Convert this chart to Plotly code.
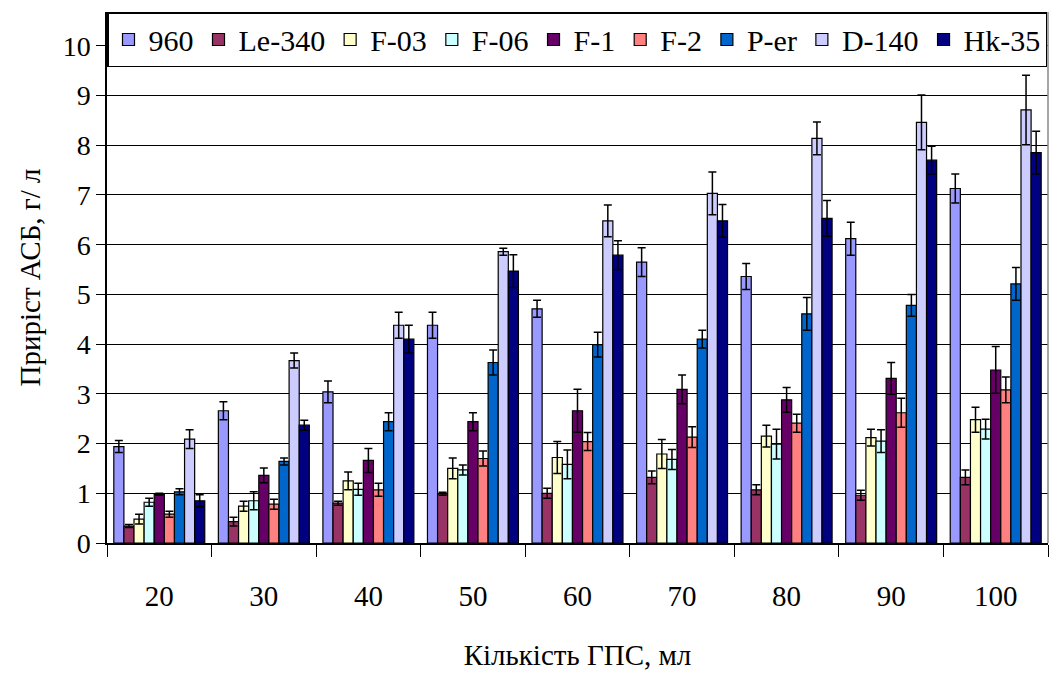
import plotly.graph_objects as go

# ГПС volumes (ml) on the x axis
volumes = ["20", "30", "40", "50", "60", "70", "80", "90", "100"]

strains = ["960", "Le-340", "F-03", "F-06", "F-1", "F-2", "P-er", "D-140", "Hk-35"]
colors = ["#9999FF", "#993366", "#FFFFCC", "#CCFFFF", "#660066",
          "#FF8080", "#0066CC", "#CCCCFF", "#000080"]

# biomass increase, g/l (per strain, one value per volume)
y_960   = [1.94, 2.66, 3.04, 4.38, 4.71, 5.65, 5.36, 6.12, 7.13]
y_le340 = [0.34, 0.43, 0.80, 0.99, 1.00, 1.32, 1.07, 0.96, 1.32]
y_f03   = [0.48, 0.74, 1.25, 1.50, 1.72, 1.79, 2.15, 2.12, 2.48]
y_f06   = [0.82, 0.85, 1.08, 1.47, 1.58, 1.68, 1.99, 2.05, 2.29]
y_f1    = [0.98, 1.36, 1.66, 2.44, 2.66, 3.09, 2.88, 3.31, 3.48]
y_f2    = [0.58, 0.78, 1.07, 1.70, 2.04, 2.13, 2.41, 2.62, 3.08]
y_per   = [1.03, 1.64, 2.44, 3.63, 3.99, 4.10, 4.61, 4.78, 5.21]
y_d140  = [2.09, 3.67, 4.38, 5.86, 6.48, 7.03, 8.14, 8.46, 8.71]
y_hk35  = [0.85, 2.37, 4.10, 5.47, 5.79, 6.48, 6.53, 7.70, 7.85]

# standard deviations
e_960   = [0.12, 0.18, 0.22, 0.26, 0.17, 0.29, 0.26, 0.33, 0.29]
e_le340 = [0.03, 0.09, 0.04, 0.03, 0.10, 0.13, 0.10, 0.10, 0.15]
e_f03   = [0.10, 0.10, 0.18, 0.21, 0.32, 0.29, 0.22, 0.17, 0.25]
e_f06   = [0.08, 0.18, 0.12, 0.10, 0.29, 0.20, 0.30, 0.23, 0.20]
e_f1    = [0.02, 0.15, 0.24, 0.18, 0.43, 0.29, 0.25, 0.32, 0.47]
e_f2    = [0.06, 0.10, 0.13, 0.15, 0.18, 0.21, 0.18, 0.29, 0.26]
e_per   = [0.06, 0.07, 0.18, 0.25, 0.25, 0.18, 0.33, 0.22, 0.33]
e_d140  = [0.19, 0.15, 0.26, 0.07, 0.32, 0.43, 0.33, 0.55, 0.70]
e_hk35  = [0.12, 0.10, 0.28, 0.33, 0.29, 0.33, 0.36, 0.28, 0.43]

values = [y_960, y_le340, y_f03, y_f06, y_f1, y_f2, y_per, y_d140, y_hk35]
errors = [e_960, e_le340, e_f03, e_f06, e_f1, e_f2, e_per, e_d140, e_hk35]

FONT = "Liberation Serif"

fig = go.Figure()
for name, col, vals, errs in zip(strains, colors, values, errors):
    fig.add_trace(go.Bar(
        name=name, x=volumes, y=vals,
        marker=dict(color=col, line=dict(color="black", width=1.2)),
        error_y=dict(type="data", array=errs, visible=True,
                     color="black", thickness=1.5, width=4),
    ))

fig.update_layout(
    width=1051, height=673,
    margin=dict(l=107, r=3, t=12, b=130),
    paper_bgcolor="white", plot_bgcolor="white",
    barmode="group", bargap=0.13, bargroupgap=0,
    font=dict(family=FONT, color="black", size=26),
    legend=dict(
        orientation="h", x=0, y=1, xanchor="left", yanchor="top",
        bgcolor="white", bordercolor="black", borderwidth=1.5,
        font=dict(family=FONT, size=30, color="black"),
        itemclick=False,
    ),
    xaxis=dict(
        type="category", showline=True, linecolor="black", linewidth=1.5,
        ticks="outside", tickson="boundaries", ticklen=12, tickcolor="black",
        tickwidth=1.2, ticklabelstandoff=26,
        tickfont=dict(family=FONT, size=29),
        title=dict(text="Кількість ГПС, мл", font=dict(family=FONT, size=29),
                   standoff=34),
        showgrid=False, mirror=False,
    ),
    yaxis=dict(
        range=[0, 10.68], dtick=1, tick0=0,
        showline=True, linecolor="black", linewidth=1.5,
        ticks="outside", ticklen=9, tickcolor="black", tickwidth=1.2,
        tickfont=dict(family=FONT, size=28),
        showgrid=True, gridcolor="black", gridwidth=1.3,
        zeroline=False,
        title=dict(text="Приріст АСБ, г/ л", font=dict(family=FONT, size=29),
                   standoff=14),
    ),
)

# right border of the plotting area
fig.add_shape(type="line", xref="paper", yref="paper",
              x0=1, x1=1, y0=0, y1=1, line=dict(color="#888888", width=1.5))

fig.write_html("out.html")
